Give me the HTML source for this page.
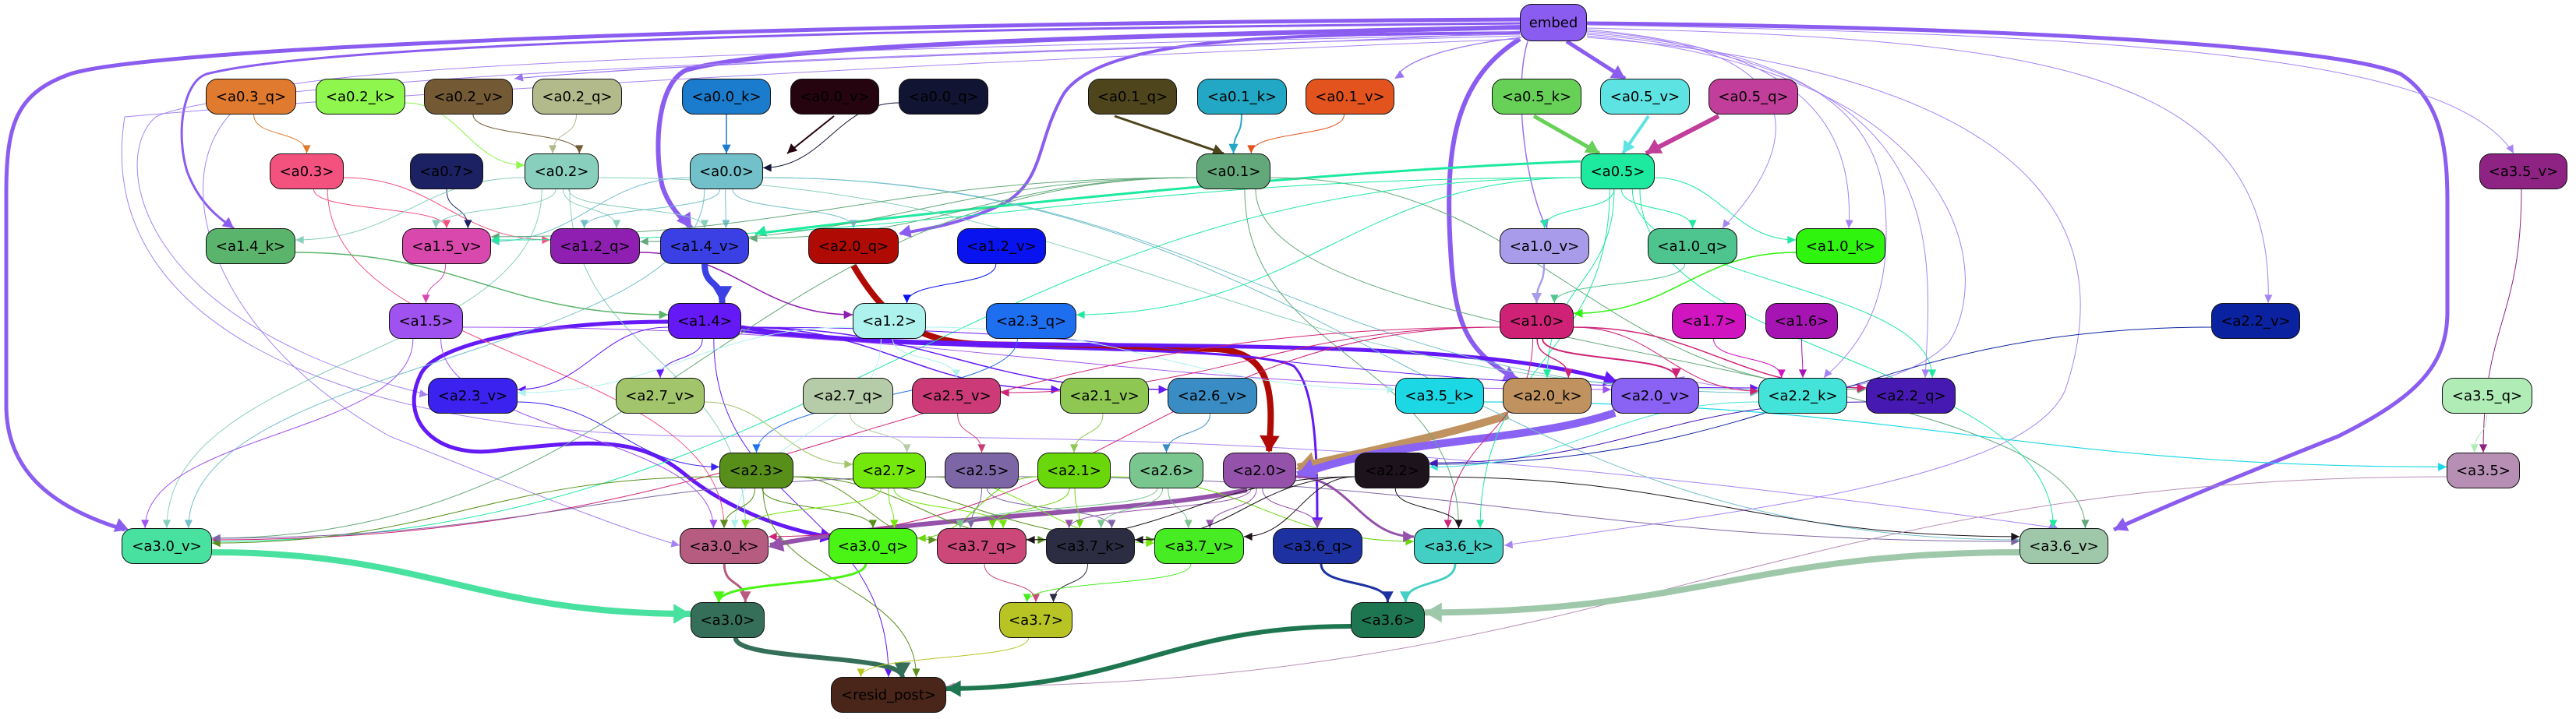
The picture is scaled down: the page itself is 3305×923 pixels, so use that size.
<!DOCTYPE html>
<html><head><meta charset="utf-8">
<style>
html,body{margin:0;padding:0;background:#fff;}
#wrap{position:relative;width:3305px;height:923px;overflow:hidden;background:#fff;}
svg{position:absolute;left:0;top:0;}
.n{position:absolute;height:46px;border:1.5px solid #111;border-radius:15px;display:flex;align-items:center;justify-content:center;font-family:"DejaVu Sans","Liberation Sans",sans-serif;font-size:18px;color:#000;box-sizing:border-box;white-space:nowrap;}
</style></head><body>
<div id="wrap">
<svg id="sv" width="3305" height="923" viewBox="0 0 3305 923"></svg>
<div id="nodes">
<div class="n" style="left:1950px;top:5px;width:86px;height:48px;background:#8b5cf0">embed</div>
<div class="n" style="left:264px;top:101px;width:116px;background:#e07a2e">&lt;a0.3_q&gt;</div>
<div class="n" style="left:405px;top:101px;width:115px;background:#8ef64c">&lt;a0.2_k&gt;</div>
<div class="n" style="left:544px;top:101px;width:114px;background:#735a35">&lt;a0.2_v&gt;</div>
<div class="n" style="left:683px;top:101px;width:115px;background:#b2b98a">&lt;a0.2_q&gt;</div>
<div class="n" style="left:875px;top:101px;width:114px;background:#1b7ccd">&lt;a0.0_k&gt;</div>
<div class="n" style="left:1014px;top:101px;width:114px;background:#25040f">&lt;a0.0_v&gt;</div>
<div class="n" style="left:1153px;top:101px;width:115px;background:#111433">&lt;a0.0_q&gt;</div>
<div class="n" style="left:1396px;top:101px;width:114px;background:#4e451d">&lt;a0.1_q&gt;</div>
<div class="n" style="left:1536px;top:101px;width:115px;background:#22a8c4">&lt;a0.1_k&gt;</div>
<div class="n" style="left:1675px;top:101px;width:114px;background:#e2531e">&lt;a0.1_v&gt;</div>
<div class="n" style="left:1914px;top:101px;width:115px;background:#67d157">&lt;a0.5_k&gt;</div>
<div class="n" style="left:2053px;top:101px;width:115px;background:#5ee3e3">&lt;a0.5_v&gt;</div>
<div class="n" style="left:2192px;top:101px;width:115px;background:#c13f9a">&lt;a0.5_q&gt;</div>

<div class="n" style="left:346px;top:197px;width:95px;background:#f4527e">&lt;a0.3&gt;</div>
<div class="n" style="left:526px;top:197px;width:94px;background:#1b2162">&lt;a0.7&gt;</div>
<div class="n" style="left:673px;top:197px;width:95px;background:#88d0bd">&lt;a0.2&gt;</div>
<div class="n" style="left:885px;top:197px;width:94px;background:#72c0ca">&lt;a0.0&gt;</div>
<div class="n" style="left:1535px;top:197px;width:95px;background:#62a87a">&lt;a0.1&gt;</div>
<div class="n" style="left:2028px;top:197px;width:95px;background:#1de99f">&lt;a0.5&gt;</div>
<div class="n" style="left:3181px;top:197px;width:113px;background:#8e2384">&lt;a3.5_v&gt;</div>

<div class="n" style="left:264px;top:293px;width:115px;background:#5ab46c">&lt;a1.4_k&gt;</div>
<div class="n" style="left:516px;top:293px;width:114px;background:#d948ad">&lt;a1.5_v&gt;</div>
<div class="n" style="left:706px;top:293px;width:115px;background:#8e1fb0">&lt;a1.2_q&gt;</div>
<div class="n" style="left:847px;top:293px;width:114px;background:#3a40e3">&lt;a1.4_v&gt;</div>
<div class="n" style="left:1037px;top:293px;width:116px;background:#b00a05">&lt;a2.0_q&gt;</div>
<div class="n" style="left:1228px;top:293px;width:114px;background:#0913f0">&lt;a1.2_v&gt;</div>
<div class="n" style="left:1924px;top:293px;width:115px;background:#a89cea">&lt;a1.0_v&gt;</div>
<div class="n" style="left:2114px;top:293px;width:115px;background:#4ec48f">&lt;a1.0_q&gt;</div>
<div class="n" style="left:2304px;top:293px;width:115px;background:#2ef40e">&lt;a1.0_k&gt;</div>

<div class="n" style="left:499px;top:389px;width:95px;background:#a052f0">&lt;a1.5&gt;</div>
<div class="n" style="left:857px;top:389px;width:94px;background:#6419f6">&lt;a1.4&gt;</div>
<div class="n" style="left:1094px;top:389px;width:94px;background:#aef2ee">&lt;a1.2&gt;</div>
<div class="n" style="left:1265px;top:389px;width:116px;background:#1e6ff0">&lt;a2.3_q&gt;</div>
<div class="n" style="left:1924px;top:389px;width:95px;background:#cf2276">&lt;a1.0&gt;</div>
<div class="n" style="left:2145px;top:389px;width:95px;background:#d014c0">&lt;a1.7&gt;</div>
<div class="n" style="left:2265px;top:389px;width:93px;background:#a614b3">&lt;a1.6&gt;</div>
<div class="n" style="left:2837px;top:389px;width:114px;background:#0a22a0">&lt;a2.2_v&gt;</div>

<div class="n" style="left:549px;top:485px;width:115px;background:#3b22ef">&lt;a2.3_v&gt;</div>
<div class="n" style="left:790px;top:485px;width:114px;background:#a2c46a">&lt;a2.7_v&gt;</div>
<div class="n" style="left:1030px;top:485px;width:116px;background:#b6cba8">&lt;a2.7_q&gt;</div>
<div class="n" style="left:1170px;top:485px;width:114px;background:#cc3b77">&lt;a2.5_v&gt;</div>
<div class="n" style="left:1360px;top:485px;width:114px;background:#8ec853">&lt;a2.1_v&gt;</div>
<div class="n" style="left:1498px;top:485px;width:115px;background:#3a8cc4">&lt;a2.6_v&gt;</div>
<div class="n" style="left:1790px;top:485px;width:114px;background:#1bd8e4">&lt;a3.5_k&gt;</div>
<div class="n" style="left:1928px;top:485px;width:114px;background:#c09260">&lt;a2.0_k&gt;</div>
<div class="n" style="left:2067px;top:485px;width:113px;background:#8a62f4">&lt;a2.0_v&gt;</div>
<div class="n" style="left:2256px;top:485px;width:114px;background:#44e3d9">&lt;a2.2_k&gt;</div>
<div class="n" style="left:2394px;top:485px;width:115px;background:#4619b2">&lt;a2.2_q&gt;</div>
<div class="n" style="left:3133px;top:485px;width:116px;background:#b0ecb6">&lt;a3.5_q&gt;</div>

<div class="n" style="left:923px;top:581px;width:95px;background:#578f1a">&lt;a2.3&gt;</div>
<div class="n" style="left:1094px;top:581px;width:94px;background:#74e80b">&lt;a2.7&gt;</div>
<div class="n" style="left:1212px;top:581px;width:95px;background:#7c66a5">&lt;a2.5&gt;</div>
<div class="n" style="left:1331px;top:581px;width:94px;background:#6ad70a">&lt;a2.1&gt;</div>
<div class="n" style="left:1449px;top:581px;width:95px;background:#7ac68f">&lt;a2.6&gt;</div>
<div class="n" style="left:1569px;top:581px;width:94px;background:#9552ab">&lt;a2.0&gt;</div>
<div class="n" style="left:1738px;top:581px;width:96px;background:#1c131c">&lt;a2.2&gt;</div>
<div class="n" style="left:3139px;top:581px;width:94px;background:#b78fb5">&lt;a3.5&gt;</div>

<div class="n" style="left:156px;top:678px;width:116px;background:#48e1a0">&lt;a3.0_v&gt;</div>
<div class="n" style="left:872px;top:678px;width:114px;background:#b65c80">&lt;a3.0_k&gt;</div>
<div class="n" style="left:1063px;top:678px;width:114px;background:#4af515">&lt;a3.0_q&gt;</div>
<div class="n" style="left:1202px;top:678px;width:115px;background:#cc4878">&lt;a3.7_q&gt;</div>
<div class="n" style="left:1342px;top:678px;width:114px;background:#2c2d42">&lt;a3.7_k&gt;</div>
<div class="n" style="left:1481px;top:678px;width:115px;background:#47ec22">&lt;a3.7_v&gt;</div>
<div class="n" style="left:1633px;top:678px;width:115px;background:#1d31a1">&lt;a3.6_q&gt;</div>
<div class="n" style="left:1814px;top:678px;width:115px;background:#44cfc4">&lt;a3.6_k&gt;</div>
<div class="n" style="left:2591px;top:678px;width:114px;background:#9fc8aa">&lt;a3.6_v&gt;</div>

<div class="n" style="left:886px;top:773px;width:95px;background:#356f59">&lt;a3.0&gt;</div>
<div class="n" style="left:1282px;top:773px;width:94px;background:#b7c424">&lt;a3.7&gt;</div>
<div class="n" style="left:1733px;top:773px;width:95px;background:#1d7650">&lt;a3.6&gt;</div>

<div class="n" style="left:1066px;top:869px;width:148px;background:#4a2519">&lt;resid_post&gt;</div>
</div>
</div>
<script>
(function(){
var N={},els=document.querySelectorAll('.n');
els.forEach(function(e){var t=e.textContent.replace(/[<>]/g,'');var l=parseFloat(e.style.left),tp=parseFloat(e.style.top),w=parseFloat(e.style.width),h=parseFloat(e.style.height)||46;N[t]={x:l,y:tp,w:w,h:h,cx:l+w/2,cy:tp+h/2,c:e.style.background};});
var sv=document.getElementById('sv'),NS='http://www.w3.org/2000/svg',out='';
function arrow(x,y,ax,ay,col,w){var dx=x-ax,dy=y-ay,L=Math.sqrt(dx*dx+dy*dy)||1;dx/=L;dy/=L;var s=9+w*1.6,hw=4+w*1.1;var bx=x-dx*s,by=y-dy*s;
return '<polygon points="'+x+','+y+' '+(bx-dy*hw)+','+(by+dx*hw)+' '+(bx+dy*hw)+','+(by-dx*hw)+'" fill="'+col+'"/>';}
function path(d,col,w,ex,ey,ax,ay,op){var s='<path d="'+d+'" fill="none" stroke="'+col+'" stroke-width="'+w+'"'+(op?' stroke-opacity="'+op+'"':'')+'/>';return s+arrow(ex,ey,ax,ay,col,w);}
var cnt={};
function E(a,b,w,col,op){var A=N[a],B=N[b];if(!A||!B)return;w=w||1;col=col||A.c;
var k=b;cnt[k]=(cnt[k]||0)+1;var off=((cnt[k]*37)%5-2)*B.w*0.12;
var dy=B.cy-A.cy,dx=B.cx-A.cx;var sx,sy,ex,ey,d,ax,ay;
if(Math.abs(dx)>2.5*Math.abs(dy)&&dy>=0){
 if(dx>0){sx=A.x+A.w;ex=B.x;}else{sx=A.x;ex=B.x+B.w;}sy=A.cy+(dy>0?8:0);ey=B.cy-(dy>0?8:0)+off*0.15;
 var m=(ex-sx)*0.45;d='M'+sx+','+sy+' C'+(sx+m)+','+sy+' '+(ex-m)+','+ey+' '+ex+','+ey;ax=ex-m;ay=ey;
}else{
 sx=A.cx+(dx>0?1:-1)*Math.min(Math.abs(dx)*0.05,A.w*0.3);sy=A.y+A.h;ex=B.cx+off;ey=B.y;
 var c=Math.max(30,(ey-sy)*0.5);d='M'+sx+','+sy+' C'+sx+','+(sy+c)+' '+ex+','+(ey-c)+' '+ex+','+ey;ax=ex;ay=ey-c;
}
out+=path(d,col,w,ex,ey,ax,ay,op);}
function P(d,col,w,ex,ey,ax,ay){out+=path(d,col,w,ex,ey,ax,ay);}
var em='#8b5cf0';
// embed long edges
P('M1950,25 C1000,30 200,60 90,95 C20,120 8,160 8,250 L8,520 C8,600 60,650 160,680',em,5,165,680,60,640);
P('M1950,30 C1000,38 400,60 265,95 C235,105 225,170 240,220 C255,260 280,280 300,293',em,3,300,293,270,270);
P('M1950,35 C1500,45 1000,55 880,90 C840,110 840,200 850,240 C860,270 880,285 887,293',em,6,887,293,865,260);
P('M1950,42 C1700,45 1420,40 1365,120 C1330,180 1340,230 1290,260 C1230,290 1180,295 1155,300','#8b5cf0',4,1153,300,1200,290);
P('M1950,50 C1870,100 1855,180 1860,300 C1865,420 1880,450 1948,488',em,6,1948,488,1890,460);
P('M2036,30 C2600,35 3000,60 3080,95 C3135,130 3140,200 3140,260 L3140,400 C3140,470 3100,510 3000,560 C2900,600 2800,640 2712,680',em,5,2712,680,2800,640);
P('M2010,53 L2085,101',em,5,2085,101,2010,53);
P('M1950,40 C1700,60 1000,70 660,101','#9b74f2',1.2,660,101,760,85);
P('M1952,48 C1850,60 1800,80 1790,101','#9b74f2',1.2,1790,101,1820,80);
P('M1960,53 C1940,120 1960,250 1985,293','#9b74f2',1.5,1985,293,1970,250);
P('M2036,40 C2350,60 2300,200 2210,293','#a583f5',1,2210,293,2240,250);
P('M2036,38 C2300,60 2380,150 2372,293','#a583f5',1,2372,293,2375,250);
P('M2036,36 C2600,50 2920,80 2910,389','#a583f5',1,2910,389,2912,330);
P('M2036,32 C2800,45 3150,80 3225,197','#a583f5',1,3225,197,3210,170);
P('M2036,42 C2400,70 2420,200 2420,300 C2420,400 2380,450 2340,485','#a583f5',1,2340,485,2360,460);
P('M2036,44 C2500,80 2480,300 2470,485','#a583f5',1,2470,485,2472,440);
P('M2036,46 C2520,90 2560,350 2500,440 C2440,500 2300,520 2150,485','#a583f5',1,2150,485,2200,500);
P('M1950,44 C1200,60 400,80 330,120 C200,190 250,420 500,560 C700,640 800,680 872,700','#a583f5',1,872,700,830,690);
P('M1950,46 C1100,70 300,100 200,150 C140,200 170,420 560,509','#a583f5',1,549,507,480,495);
P('M2036,48 C2700,100 2700,350 2650,500 C2600,620 2200,660 1930,700','#a583f5',1,1930,700,1990,695);
P('M1950,50 C1200,80 500,120 160,150 C120,400 400,550 880,560 C1400,560 1800,560 2640,678','#a583f5',1,2640,678,2560,640);
// heavy special
P('M1095,341 C1130,400 1170,440 1260,442 L1560,448 C1630,452 1635,500 1628,579','#b00a05',8,1628,581,1630,530);
P('M951,420 C1100,445 1300,440 1600,445 C1900,450 2000,470 2075,490','#6419f6',5,2075,490,2010,472);
P('M951,425 C1200,455 1600,440 1660,470 C1690,500 1690,600 1690,676','#6419f6',3,1690,678,1690,620);
P('M857,413 C700,413 560,440 540,480 C510,540 560,590 640,578 C760,565 820,560 880,610 C930,650 1000,680 1070,690','#6419f6',5,1070,690,1010,680);
P('M1935,533 C1850,560 1750,580 1665,600','#c09260',10,1663,602,1720,585);
P('M2072,530 C1950,570 1800,560 1665,610','#8a62f4',10,1663,612,1720,590);
P('M1600,629 C1450,660 1200,660 988,700','#9552ab',6,986,702,1060,685);
P('M2028,207 C1700,220 1300,260 969,300','#1de99f',3,969,300,1050,280);
P('M2205,149 L2112,197','#c13f9a',6,2112,197,2150,175);
P('M1968,149 L2052,197','#67d157',5,2052,197,2010,170);
P('M2115,149 L2082,197','#5ee3e3',4,2082,197,2100,170);
P('M1430,149 L1570,197','#4e451d',3,1570,197,1500,170);
P('M1070,149 L1010,197','#25040f',2,1010,197,1040,170);
// generic edges
var G=[
['a0.3_q','a0.3',1],['a0.2_k','a0.2',1],['a0.2_v','a0.2',1],['a0.2_q','a0.2',1],['a0.0_k','a0.0',1.5],['a0.0_q','a0.0',1],
['a0.1_k','a0.1',2],['a0.1_v','a0.1',1],
['a0.3','a1.5_v',1],['a0.3','a1.2_q',1],['a0.3','a3.0_k',1],['a0.7','a1.5_v',1],
['a0.2','a1.4_k',1],['a0.2','a1.5_v',1],['a0.2','a1.2_q',1],['a0.2','a1.4_v',1],['a0.2','a3.0_v',1],['a0.2','a3.0_k',1],['a0.2','a2.2_k',1],
['a0.0','a1.5_v',1],['a0.0','a1.2_q',1],['a0.0','a1.4_v',1],['a0.0','a2.0_q',1],['a0.0','a3.0_v',1],['a0.0','a2.2_k',1],['a0.0','a3.6_v',1],
['a0.1','a1.5_v',1],['a0.1','a1.2_q',1],['a0.1','a1.4_v',1],['a0.1','a2.2_q',1],['a0.1','a3.6_v',1],['a0.1','a3.6_k',1],['a0.1','a3.0_v',1],
['a0.5','a1.5_v',1],['a0.5','a1.0_v',1],['a0.5','a1.0_q',1],['a0.5','a1.0_k',1],['a0.5','a2.3_q',1],['a0.5','a2.2_q',1],['a0.5','a3.6_v',1],['a0.5','a3.6_k',1],['a0.5','a3.0_v',1],['a0.5','a2.0_k',1],
['a3.5_v','a3.5',1],['a1.4_k','a1.4',1.5],['a1.5_v','a1.5',1],['a1.2_q','a1.2',1.5],['a1.4_v','a1.4',8],['a1.2_v','a1.2',1],
['a1.0_v','a1.0',2.5],['a1.0_q','a1.0',1],['a1.0_k','a1.0',1.5],
['a1.5','a3.0_k',1],['a1.5','a3.0_v',1],['a1.5','a2.0_v',1],
['a1.4','a2.3_v',1],['a1.4','a2.7_v',1],['a1.4','a2.1_v',1.5],['a1.4','a2.6_v',1.5],['a1.4','resid_post',1],['a1.4','a2.2_k',1],
['a1.2','a2.3_v',1],['a1.2','a2.5_v',1],['a1.2','a3.5_k',1],['a1.2','a3.0_k',1],
['a2.3_q','a2.3',1],
['a1.0','a2.5_v',1],['a1.0','a2.0_k',1.5],['a1.0','a2.0_v',2],['a1.0','a2.2_k',1],['a1.0','a2.2_q',1.5],['a1.0','a3.0_v',1],['a1.0','a3.6_k',1],['a1.0','a3.0_k',1],
['a1.7','a2.2_k',1],['a1.6','a2.2_k',1],['a2.2_v','a2.2',1],
['a2.3_v','a2.3',1],['a2.7_v','a2.7',1],['a2.7_q','a2.7',1],['a2.5_v','a2.5',1],['a2.1_v','a2.1',1],['a2.6_v','a2.6',1],['a3.5_k','a3.5',1.2],
['a2.2_k','a2.2',1],['a2.2_q','a2.2',1],['a3.5_q','a3.5',1],
['a2.3','a3.0_v',1],['a2.3','a3.0_k',1],['a2.3','a3.0_q',1],['a2.3','a3.7_q',1],['a2.3','a3.7_k',1],['a2.3','a3.7_v',1],['a2.3','resid_post',1],
['a2.7','a3.0_q',1],['a2.7','a3.0_k',1],['a2.7','a3.7_q',1],['a2.7','a3.7_v',1],
['a2.5','a3.0_v',1],['a2.5','a3.7_q',1],['a2.5','a3.7_k',1],['a2.5','a3.6_v',1],
['a2.1','a3.0_q',1],['a2.1','a3.7_q',1],['a2.1','a3.7_k',1],['a2.1','a3.6_k',1],
['a2.6','a3.7_q',1],['a2.6','a3.7_k',1],['a2.6','a3.7_v',1],
['a2.0','a3.7_k',1],['a2.0','a3.7_v',1],['a2.0','a3.6_q',1],['a2.0','a3.6_k',3],
['a2.2','a3.7_q',1],['a2.2','a3.7_k',1],['a2.2','a3.7_v',1],['a2.2','a3.6_k',1],['a2.2','a3.6_v',1],
['a3.5','resid_post',1],
['a3.0_v','a3.0',8],['a3.0_k','a3.0',3],['a3.0_q','a3.0',3],
['a3.7_q','a3.7',1],['a3.7_k','a3.7',1],['a3.7_v','a3.7',1],
['a3.6_q','a3.6',3],['a3.6_k','a3.6',3],['a3.6_v','a3.6',8],
['a3.0','resid_post',6],['a3.7','resid_post',1],['a3.6','resid_post',6]
];
G.forEach(function(g){E(g[0],g[1],g[2]);});
sv.innerHTML=out;
})();
</script>
</body></html>
